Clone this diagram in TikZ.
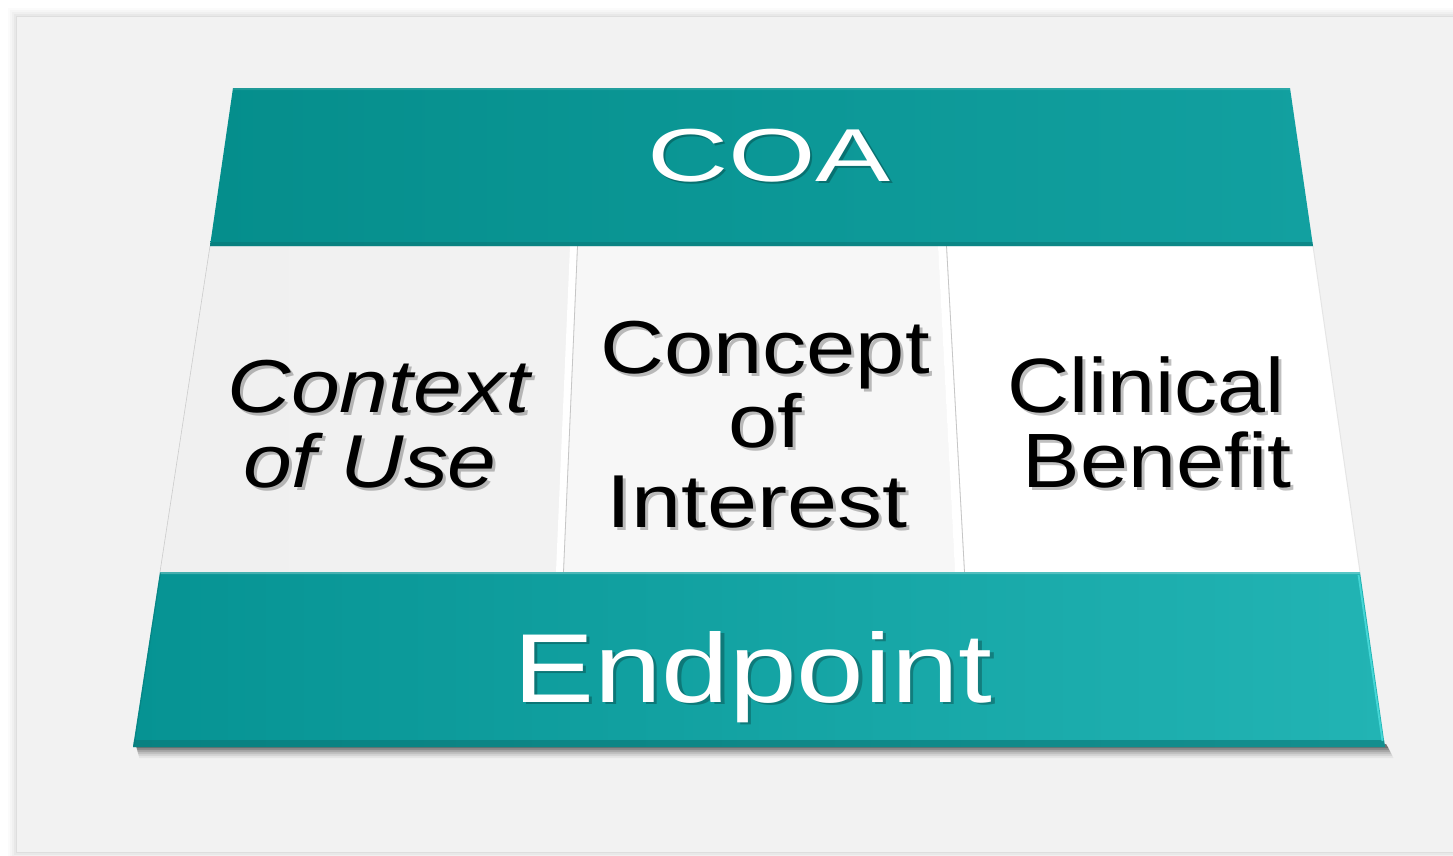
\documentclass[tikz,border=0pt]{standalone}
\usepackage{fontspec}
\setmainfont{Liberation Sans}
\definecolor{bggray}{HTML}{F2F2F2}
\definecolor{tealA}{HTML}{058E8C}
\definecolor{tealB}{HTML}{12A0A0}
\definecolor{tealC}{HTML}{069393}
\definecolor{tealD}{HTML}{22B4B4}
\definecolor{tealdark}{HTML}{0A7676}
\definecolor{teallight}{HTML}{45D6D6}
\tikzset{
  lbl/.style={anchor=base, inner sep=0pt, outer sep=0pt},
  big/.style={font=\fontsize{75}{75}\selectfont},
  huge/.style={font=\fontsize{98}{98}\selectfont},
  txtshadow/.style={text=black, opacity=0.25},
  wshadow/.style={text=black, opacity=0.25},
  divline/.style={draw=gray!45, line width=0.8pt},
}
\begin{document}
\begin{tikzpicture}[x=1pt,y=-1pt]
\useasboundingbox (0,0) rectangle (1453,855);
\fill[white] (0,0) rectangle (1453,855);
% panel with soft shadow
\foreach \i/\o in {9/0.015,7/0.02,5/0.025,3/0.03,1/0.04}
  \fill[black,opacity=\o] (17-\i,17-\i) rectangle (1453,852+\i);
\fill[bggray] (17,17) rectangle (1453,852);

% middle panels
\shade[left color=black!6, right color=black!5] (210,246) -- (570,246) -- (556,572) -- (160,572) -- cycle;
\fill[white] (570,246) -- (577,246) -- (563,572) -- (556,572) -- cycle;
\fill[black!3] (578,246) -- (938,246) -- (955,572) -- (564,572) -- cycle;
\fill[white] (938,246) -- (946,246) -- (964,572) -- (955,572) -- cycle;
\fill[white] (947,246) -- (1313,246) -- (1360,572) -- (965,572) -- cycle;
\coordinate (d1t) at (577.5,246); \coordinate (d1b) at (563.5,572);
\coordinate (d2t) at (946.5,246); \coordinate (d2b) at (964.5,572);
\coordinate (lt) at (210,246); \coordinate (lb) at (160,572);
\coordinate (rt) at (1313,246); \coordinate (rb) at (1360,572);
\draw[divline] (d1t) -- (d1b);
\draw[divline] (d2t) -- (d2b);
\draw[draw=gray!40, line width=0.6pt] (lt) -- (lb);
\draw[draw=gray!20, line width=1pt] (rt) -- (rb);

% bottom band shadow
\foreach \i/\o in {11/0.05,9/0.07,7/0.09,5/0.12,3/0.16,1/0.2}
  \fill[black,opacity=\o] (136,744) -- (1386,744) -- (1388+\i*0.5,747+\i) -- (136+\i*0.3,747+\i) -- cycle;

% top band
\shade[left color=tealA, right color=tealB] (233,88) -- (1290,88) -- (1313,246) -- (210,246) -- cycle;
\fill[tealdark, opacity=0.55] (210.6,242) -- (1312.4,242) -- (1313,246) -- (210,246) -- cycle;
\fill[white, opacity=0.10] (233,88) -- (1290,88) -- (1290.3,90) -- (232.7,90) -- cycle;

% bottom band
\shade[left color=tealC, right color=tealD] (160,572) -- (1360,572) -- (1385,747) -- (133,747) -- cycle;
\fill[tealdark, opacity=0.6] (134,740) -- (1384,740) -- (1385,747) -- (133,747) -- cycle;
\fill[white, opacity=0.25] (160,572) -- (1360,572) -- (1360.3,574) -- (159.7,574) -- cycle;
\draw[teallight, line width=1.8pt] (1358.5,575) -- (1382.5,741);
\draw[tealdark, opacity=0.5, line width=1pt] (160.5,573) -- (134,746);

% texts: COA
\node[lbl, big, wshadow, xscale=1.5] (coas) at (771.5,183.5) {COA};
\node[lbl, big, text=white, xscale=1.5] (coa) at (769,181) {COA};
% Endpoint
\node[lbl, huge, wshadow, xscale=1.24] (ends) at (756.5,704.5) {Endpoint};
\node[lbl, huge, text=white, xscale=1.24] (endp) at (753,702) {Endpoint};
% Context of Use
\node[lbl, big, txtshadow, xscale=1.17] (ctx1s) at (382,415) {\itshape Context};
\node[lbl, big, xscale=1.17] (ctx1) at (379,412) {\itshape Context};
\node[lbl, big, txtshadow, xscale=1.17] (ctx2s) at (373,490) {\itshape of Use};
\node[lbl, big, xscale=1.17] (ctx2) at (370,487) {\itshape of Use};
% Concept of Interest
\node[lbl, big, txtshadow, xscale=1.18] (coi1s) at (768,376) {Concept};
\node[lbl, big, xscale=1.18] (coi1) at (765,373) {Concept};
\node[lbl, big, txtshadow, xscale=1.18] (coi2s) at (768,450) {of};
\node[lbl, big, xscale=1.18] (coi2) at (765,447) {of};
\node[lbl, big, txtshadow, xscale=1.2] (coi3s) at (760,530) {Interest};
\node[lbl, big, xscale=1.2] (coi3) at (757,527) {Interest};
% Clinical Benefit
\node[lbl, font=\fontsize{77}{77}\selectfont, txtshadow, xscale=1.12] (cb1s) at (1149,415) {Clinical};
\node[lbl, font=\fontsize{77}{77}\selectfont, xscale=1.12] (cb1) at (1146,412) {Clinical};
\node[lbl, font=\fontsize{77}{77}\selectfont, txtshadow, xscale=1.12] (cb2s) at (1160,490) {Benefit};
\node[lbl, font=\fontsize{77}{77}\selectfont, xscale=1.12] (cb2) at (1157,487) {Benefit};
\end{tikzpicture}
\end{document}
